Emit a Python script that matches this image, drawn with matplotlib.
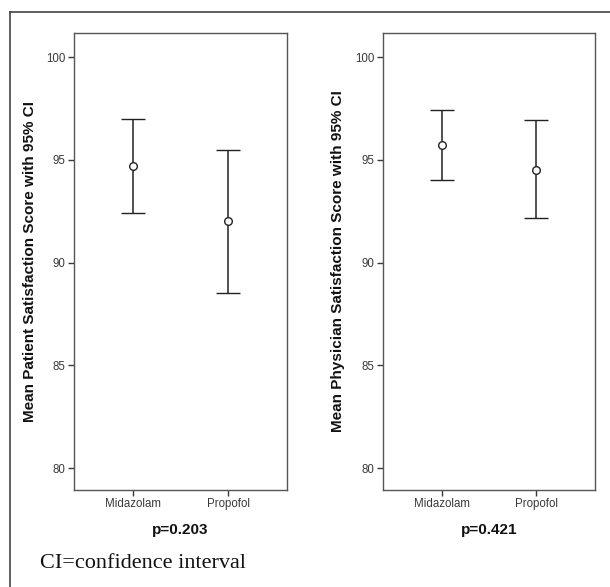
import matplotlib.pyplot as plt
import numpy as np
from matplotlib.lines import Line2D

# ---------------------------------------------------------------------------
# Data
# ---------------------------------------------------------------------------
groups = ["Midazolam", "Propofol"]

patient_mean = [94.7, 92.0]
patient_lo   = [92.4, 88.5]
patient_hi   = [97.0, 95.5]

physician_mean = [95.7, 94.5]
physician_lo   = [94.0, 92.15]
physician_hi   = [97.4, 96.95]

ylabels = ["Mean Patient Satisfaction Score with 95% CI",
           "Mean Physician Satisfaction Score with 95% CI"]
pvalues = ["p=0.203", "p=0.421"]
yticks = [80, 85, 90, 95, 100]

plt.rcParams['font.family'] = ['Liberation Sans', 'DejaVu Sans']

fig = plt.figure(figsize=(6.10, 5.87), dpi=100)
W, H = 610, 587

def px_axes(x0, y0, x1, y1):
    # pixel box (top-left origin) -> figure fraction
    return fig.add_axes([x0 / W, 1 - y1 / H, (x1 - x0) / W, (y1 - y0) / H])

boxes = [(74, 33, 287, 490), (383, 33, 595, 490)]
series = [(patient_mean, patient_lo, patient_hi),
          (physician_mean, physician_lo, physician_hi)]
ylab_x = [30, 338]

for k, (box, (m, lo, hi)) in enumerate(zip(boxes, series)):
    ax = px_axes(*box)
    x = np.arange(1, len(groups) + 1)
    m = np.array(m); lo = np.array(lo); hi = np.array(hi)
    ax.errorbar(x, m, yerr=[m - lo, hi - m], fmt='o', mfc='white', mec='#222222',
                mew=1.0, ms=5.5, ecolor='#222222', elinewidth=1.1,
                capsize=8.5, capthick=1.1, color='#222222')
    ax.set_xlim(0.379, 2.621)
    ax.set_ylim(78.93, 101.17)
    ax.set_yticks(yticks)
    ax.set_yticklabels([str(t) for t in yticks])
    ax.set_xticks(x)
    ax.set_xticklabels(groups)
    ax.tick_params(axis='both', labelsize=8.3, colors='#3a3a3a', length=4,
                   width=1, direction='out', pad=2)
    for s in ax.spines.values():
        s.set_color('#555555')
        s.set_linewidth(1.0)
    # y label placed by pixel position
    fig.text(ylab_x[k] / W, 1 - 261 / H, ylabels[k], rotation=90,
             ha='center', va='center', fontsize=11, fontweight='bold',
             color='#111111')
    cx = (box[0] + box[2]) / 2
    fig.text(cx / W, 1 - 530 / H, pvalues[k], ha='center', va='center',
             fontsize=11, fontweight='bold', color='#111111')

fig.text(40 / W, 1 - 563 / H, "CI=confidence interval", ha='left',
         va='center', fontsize=16, family=['Liberation Serif', 'DejaVu Serif'],
         color='#111111')

# outer frame (top and left)
fig.add_artist(Line2D([10 / W, 1.0], [1 - 12 / H, 1 - 12 / H],
                      color='#444444', lw=1.2, transform=fig.transFigure))
fig.add_artist(Line2D([10 / W, 10 / W], [1 - 12 / H, 0.0],
                      color='#444444', lw=1.2, transform=fig.transFigure))

fig.savefig('out.png', dpi=100, facecolor='white')
